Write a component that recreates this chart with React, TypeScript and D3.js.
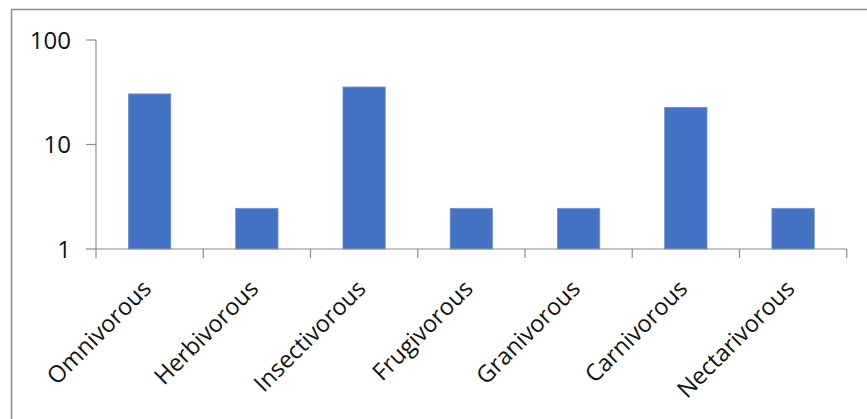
import React from "react";
import * as d3 from "d3";

const categories = ["Omnivorous", "Herbivorous", "Insectivorous", "Frugivorous", "Granivorous", "Carnivorous", "Nectarivorous"];
const values = [30.5, 2.45, 35.5, 2.45, 2.45, 22.7, 2.45];
const yTicks = [1, 10, 100];

const W = 867;
const H = 419;
const left = 96;
const right = 846.7;
const top = 40;
const bottom = 249;
const FONT = "'Open Sans', 'Noto Sans', sans-serif";

export default function App() {
  const x = d3.scaleBand<string>().domain(categories).range([left, right]).paddingInner(0.605).paddingOuter(0.3025);
  const y = d3.scaleLog().domain([1, 100]).range([bottom, top]);
  const step = x.step();
  const tickXs = d3.range(categories.length + 1).map((i) => left + i * step);

  return (
    <svg width={W} height={H} style={{ position: "absolute", left: 0, top: 0, background: "#fff" }}>
      <rect x={11.5} y={9.5} width={W + 20} height={H + 20} fill="#fff" stroke="#8c8c8c" strokeWidth={1.5} />
      {categories.map((c, i) => (
        <rect key={c} x={x(c)} y={y(values[i])} width={x.bandwidth()} height={bottom - y(values[i])} fill="#4472C4" stroke="#6f93d6" strokeWidth={0.8} />
      ))}
      <line x1={left} x2={left} y1={top} y2={bottom} stroke="#8c8c8c" strokeWidth={1.2} />
      <line x1={left} x2={right} y1={bottom} y2={bottom} stroke="#8c8c8c" strokeWidth={1.2} />
      {yTicks.map((t) => (
        <g key={t}>
          <line x1={86} x2={left} y1={y(t)} y2={y(t)} stroke="#8c8c8c" strokeWidth={1.2} />
          <text x={71} y={y(t)} dy="0.36em" textAnchor="end" fontFamily={FONT} fontSize={24} fill="#111">
            {t}
          </text>
        </g>
      ))}
      {tickXs.map((tx, i) => (
        <line key={i} x1={tx} x2={tx} y1={bottom} y2={bottom + 9} stroke="#8c8c8c" strokeWidth={1.2} />
      ))}
      {categories.map((c) => {
        const cx = (x(c) as number) + x.bandwidth() / 2 + 3;
        const cy = bottom + 41;
        return (
          <text key={c} x={cx} y={cy} textAnchor="end" transform={`rotate(-45 ${cx} ${cy})`} fontFamily={FONT} fontSize={23.5} fill="#111">
            {c}
          </text>
        );
      })}
    </svg>
  );
}
